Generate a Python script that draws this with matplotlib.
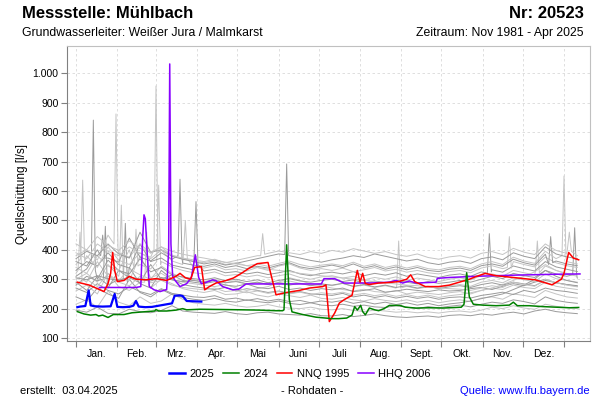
import numpy as np
import matplotlib
matplotlib.use("Agg")
import matplotlib.pyplot as plt
from matplotlib.lines import Line2D
from matplotlib.ticker import FuncFormatter

plt.rcParams['font.family'] = ['Liberation Sans', 'DejaVu Sans']

# Monate (Schaltjahr, Tag 0 = 1. Jan.)
monate = ["Jan.", "Feb.", "Mrz.", "Apr.", "Mai", "Juni", "Juli", "Aug.", "Sept.", "Okt.", "Nov.", "Dez."]
monatsgrenzen = [0, 31, 60, 91, 121, 152, 182, 213, 244, 274, 305, 335, 366]
y_ticks = [100, 200, 300, 400, 500, 600, 700, 800, 900, 1000]

# 2025 (blau)
blau_tage = [1, 3, 7, 9.5, 11, 14, 20, 26, 29, 31, 35, 40, 43, 45, 47, 52, 57, 62, 67, 72, 74, 78, 80, 83, 88, 94]
blau_werte = [205, 207, 209, 262, 211, 208, 207, 208, 250, 206, 205, 206, 210, 226, 207, 205, 206, 210, 214, 218, 244, 245, 243, 226, 225, 224]

# 2024 (gruen)
gruen_tage = [1, 6, 11, 15, 17, 20, 24, 28, 36, 42,
              53, 59, 60, 62, 68, 75, 80, 83, 93, 110,
              125, 137.6, 150, 155, 156, 158, 160, 162, 170, 180,
              192, 197, 203, 207, 209, 211, 213.5, 215, 217, 220,
              224, 227, 231, 235, 243, 247, 255, 265, 275, 285,
              289, 291, 293, 295, 298, 305, 315, 325, 328, 331,
              340, 350, 360, 370, 377]
gruen_werte = [190, 182, 178, 180, 175, 178, 170, 180, 180, 186,
               190, 192, 197, 192, 192, 195, 200, 196, 198, 197,
               196, 195, 193, 193, 196, 417, 230, 189, 180, 171,
               166, 166, 168, 178, 207, 195, 211, 190, 179, 202,
               196, 193, 200, 211, 211, 205, 202, 203, 202, 204,
               205, 215, 322, 240, 215, 212, 210, 212, 222, 210,
               210, 207, 205, 203, 204]

# NNQ 1995 (rot)
rot_tage = [1, 10, 21, 24, 26, 27.5, 29, 31, 36, 40,
            45, 52, 60, 68, 75, 78, 82, 86, 89, 94,
            96.5, 100, 105, 112, 118, 124, 130, 136, 144, 150,
            158, 167.5, 175, 185, 187.5, 190, 194, 197.5, 201, 204,
            207, 211, 213, 215, 217, 220, 227, 235, 242, 248,
            251, 254, 262, 272, 280, 289, 295, 300, 307, 315,
            332, 344.5, 357, 364, 366, 369.5, 373, 377]
rot_werte = [290, 280, 258, 285, 320, 391, 330, 292, 296, 310,
             300, 298, 302, 296, 310, 320, 305, 300, 340, 343,
             264, 275, 287, 295, 304, 320, 338, 353, 357, 247,
             255, 262, 270, 275, 281, 156, 185, 219, 230, 238,
             245, 330, 290, 320, 285, 282, 287, 289, 292, 300,
             315, 292, 275, 275, 280, 292, 300, 309, 320, 312,
             304, 298, 281, 300, 320, 391, 372, 366]

# HHQ 2006 (lila)
lila_tage = [17.5, 25, 35, 45, 48.6, 50, 51, 52, 53.5, 55,
             58.6, 63, 68, 69.5, 70.3, 71.2, 72.5, 74, 78, 83,
             86.5, 89.5, 92, 94, 98, 102.5, 105, 110, 117.6, 122,
             127.6, 140, 160, 184, 186, 194, 201, 220, 235, 240,
             245, 250, 255, 270, 271, 280, 300, 330, 360, 378]
lila_werte = [272, 272, 272, 272, 275, 440, 519, 505, 380, 275,
              264, 258, 265, 400, 1032, 420, 310, 298, 275, 285,
              306, 383, 306, 285, 290, 298, 295, 275, 264, 266,
              284, 284, 284, 284, 302, 302, 287, 287, 290, 296,
              287, 294, 287, 290, 303, 306, 310, 314, 317, 318]

# uebrige Jahre (grau), Werte alle 8 Tage
grau_tage = list(range(0, 377, 8))
g01 = [195, 188, 205, 184, 182, 198, 190, 186, 194, 210, 192, 188,
       186, 184, 190, 183, 180, 186, 188, 182, 180, 178, 183, 176,
       175, 180, 173, 177, 182, 176, 172, 170, 173, 175, 171, 177,
       179, 176, 182, 178, 184, 188, 182, 192, 198, 190, 186, 183]
g02 = [215, 230, 205, 260, 222, 210, 240, 218, 226, 250, 232, 220,
       215, 212, 218, 210, 205, 208, 214, 206, 202, 200, 205, 198,
       196, 200, 194, 190, 195, 192, 188, 190, 186, 189, 185, 190,
       192, 188, 195, 205, 200, 210, 202, 198, 215, 208, 204, 200]
g03 = [240, 225, 270, 250, 235, 300, 255, 240, 265, 248, 238, 232,
       228, 235, 226, 222, 230, 224, 220, 226, 218, 214, 220, 212,
       210, 215, 208, 212, 206, 204, 210, 205, 200, 207, 203, 208,
       212, 206, 215, 222, 218, 230, 224, 216, 240, 228, 222, 218]
g04 = [260, 280, 250, 320, 275, 262, 290, 270, 300, 285, 268, 260,
       255, 262, 248, 250, 258, 246, 240, 250, 244, 238, 246, 235,
       232, 238, 230, 226, 234, 228, 224, 230, 222, 228, 220, 226,
       230, 224, 236, 240, 232, 250, 245, 238, 262, 250, 240, 236]
g05 = [290, 262, 310, 280, 300, 340, 285, 270, 330, 300, 282, 275,
       270, 265, 272, 260, 268, 262, 255, 260, 252, 258, 250, 248,
       245, 252, 240, 246, 238, 244, 236, 242, 235, 240, 232, 238,
       240, 236, 245, 250, 256, 248, 262, 255, 270, 262, 258, 252]
g06 = [300, 320, 290, 350, 310, 295, 380, 305, 320, 298, 290, 285,
       280, 275, 282, 270, 262, 268, 275, 290, 305, 296, 284, 278,
       270, 265, 260, 266, 258, 255, 262, 250, 256, 252, 248, 254,
       258, 250, 262, 270, 265, 280, 272, 268, 290, 276, 270, 265]
g07 = [280, 310, 295, 270, 330, 305, 288, 350, 300, 315, 296, 290,
       285, 292, 280, 276, 284, 272, 268, 276, 265, 270, 262, 268,
       264, 270, 258, 262, 268, 256, 260, 266, 262, 258, 264, 260,
       262, 268, 272, 265, 276, 285, 278, 290, 300, 288, 282, 278]
g08 = [320, 290, 360, 310, 295, 335, 315, 300, 345, 320, 305, 298,
       292, 300, 288, 295, 285, 290, 282, 288, 294, 286, 280, 284,
       278, 286, 275, 280, 272, 278, 270, 276, 268, 274, 270, 278,
       282, 276, 290, 296, 288, 305, 298, 292, 318, 302, 296, 290]
g09 = [310, 335, 300, 365, 330, 318, 370, 325, 340, 315, 308, 302,
       298, 305, 295, 300, 292, 298, 288, 296, 302, 294, 290, 296,
       300, 292, 298, 286, 294, 288, 296, 290, 284, 292, 286, 290,
       296, 290, 300, 310, 302, 320, 312, 306, 330, 318, 310, 304]
g10 = [340, 320, 380, 345, 330, 400, 350, 335, 360, 342, 330, 322,
       318, 325, 312, 316, 308, 314, 305, 312, 318, 306, 300, 308,
       312, 304, 310, 298, 306, 300, 308, 296, 304, 298, 292, 300,
       305, 298, 312, 318, 310, 330, 322, 315, 345, 330, 320, 314]
g11 = [330, 360, 345, 390, 350, 338, 420, 360, 372, 348, 340, 332,
       328, 334, 322, 326, 318, 324, 316, 322, 330, 318, 312, 320,
       324, 318, 326, 312, 320, 314, 322, 310, 318, 312, 306, 314,
       318, 310, 325, 332, 324, 345, 336, 328, 360, 342, 334, 326]
g12 = [350, 380, 340, 410, 365, 350, 390, 370, 400, 362, 350, 342,
       338, 346, 332, 336, 328, 340, 330, 345, 352, 338, 330, 336,
       330, 338, 326, 332, 340, 328, 334, 324, 330, 322, 318, 326,
       330, 322, 338, 346, 336, 360, 350, 342, 375, 356, 346, 340]
g13 = [360, 345, 400, 372, 358, 440, 375, 362, 390, 368, 355, 348,
       344, 352, 340, 346, 336, 344, 338, 348, 356, 342, 336, 342,
       348, 340, 352, 338, 346, 334, 342, 332, 340, 330, 326, 334,
       338, 330, 346, 352, 344, 368, 356, 348, 385, 362, 352, 346]
g14 = [380, 400, 365, 450, 390, 375, 420, 388, 410, 380, 370, 362,
       356, 364, 350, 356, 346, 352, 344, 354, 362, 350, 342, 348,
       352, 346, 358, 344, 352, 340, 348, 338, 346, 336, 332, 340,
       344, 336, 352, 360, 350, 375, 362, 354, 395, 370, 360, 352]
g15 = [370, 395, 380, 420, 386, 372, 460, 392, 400, 378, 368, 360,
       352, 358, 348, 354, 362, 370, 378, 386, 380, 372, 364, 358,
       366, 372, 380, 374, 386, 378, 370, 362, 368, 356, 350, 358,
       362, 354, 370, 376, 366, 390, 378, 370, 410, 386, 376, 370]
g16 = [390, 370, 420, 395, 380, 410, 388, 375, 400, 382, 372, 366,
       360, 368, 356, 364, 372, 380, 388, 396, 390, 384, 394, 388,
       398, 392, 404, 396, 388, 394, 384, 378, 386, 374, 368, 376,
       380, 372, 388, 394, 384, 405, 392, 384, 420, 398, 388, 380]
g17 = [270, 255, 285, 262, 250, 275, 258, 248, 268, 252, 246, 240,
       238, 244, 232, 236, 228, 234, 226, 232, 224, 228, 220, 226,
       222, 228, 218, 224, 216, 222, 214, 220, 212, 218, 210, 216,
       220, 226, 234, 242, 250, 265, 280, 300, 330, 310, 296, 288]
g18 = [285, 300, 275, 320, 290, 278, 310, 288, 296, 280, 272, 268,
       264, 270, 258, 262, 254, 260, 252, 258, 250, 256, 248, 254,
       250, 256, 246, 252, 244, 250, 242, 248, 240, 246, 238, 244,
       248, 254, 262, 270, 282, 296, 310, 325, 350, 330, 318, 310]
g19 = [305, 298, 312, 302, 296, 308, 300, 294, 306, 298, 292, 296,
       290, 296, 288, 292, 284, 290, 282, 288, 280, 286, 278, 284,
       280, 286, 276, 282, 274, 280, 272, 278, 270, 276, 268, 274,
       278, 272, 282, 288, 280, 290, 284, 278, 296, 288, 282, 276]
g20 = [420, 400, 445, 415, 398, 430, 405, 392, 410, 395, 385, 378,
       372, 365, 358, 352, 346, 340, 334, 330, 326, 320, 316, 312,
       308, 304, 300, 296, 292, 288, 284, 280, 278, 274, 270, 268,
       266, 262, 270, 278, 272, 290, 282, 276, 300, 288, 280, 274]
grau = [g01, g02, g03, g04, g05, g06, g07, g08, g09, g10,
        g11, g12, g13, g14, g15, g16, g17, g18, g19, g20]

# Spitzen in den grauen Jahren: (Jahr-Index, Tag, Spitze, Wert davor, Wert danach)
spitzen = [(8, 13, 841, 360, 330), (11, 5, 637, 370, 360), (13, 30, 862, 420, 400),
           (15, 60, 957, 400, 390), (9, 62, 620, 360, 350), (12, 78, 640, 380, 372),
           (10, 90, 564, 372, 350), (14, 158, 692, 384, 380), (13, 366, 651, 380, 372),
           (7, 3, 460, 330, 300), (6, 22, 480, 300, 280), (5, 34, 552, 320, 300),
           (4, 37, 490, 300, 290), (9, 45, 470, 340, 345), (3, 53, 460, 290, 280),
           (11, 82, 500, 380, 370), (12, 20, 450, 380, 372), (15, 140, 455, 380, 385),
           (10, 310, 455, 320, 325), (11, 325, 445, 340, 338), (9, 346, 430, 325, 322),
           (12, 356, 445, 350, 356), (15, 370, 460, 400, 395), (8, 374, 475, 315, 310),
           (7, 242, 430, 276, 270)]
grau_farben = ['#9a9a9a', '#c4c4c4']

fig = plt.figure(figsize=(6, 4), dpi=100)
ax = fig.add_axes([67 / 600, 1 - 341 / 400, 523 / 600, 295 / 400])

for j, werte in enumerate(grau):
    t = list(grau_tage)
    q = list(werte)
    for k, tag, spitze, a, b in spitzen:
        if k == j:
            t += [tag - 1.5, tag, tag + 1.5]
            q += [a, spitze, b]
    reihenfolge = np.argsort(t)
    ax.plot(np.array(t)[reihenfolge], np.array(q)[reihenfolge],
            color=grau_farben[j % 2], lw=0.7, zorder=2)

ax.plot(lila_tage, lila_werte, color='#8800ff', lw=1.1, zorder=3)
ax.plot(rot_tage, rot_werte, color='#ff0000', lw=1.1, zorder=4)
ax.plot(gruen_tage, gruen_werte, color='#008000', lw=1.1, zorder=5)
ax.plot(blau_tage, blau_werte, color='#0000ff', lw=1.6, zorder=6)

ax.set_xlim(-6.75, 385.5)
ax.set_ylim(90, 1093)

ax.set_xticks(monatsgrenzen)
ax.set_xticklabels([])
ax.set_xticks([(monatsgrenzen[i] + monatsgrenzen[i + 1]) / 2 for i in range(12)], minor=True)
ax.set_xticklabels(monate, minor=True, fontsize=7.5)
ax.tick_params(axis='x', which='major', length=4, color='#808080', direction='out')
ax.tick_params(axis='x', which='minor', length=0, pad=6)
ax.set_yticks(y_ticks)
ax.yaxis.set_major_formatter(FuncFormatter(lambda v, p: f"{v:,.0f}".replace(",", ".")))
ax.tick_params(axis='y', length=4, color='#808080', labelsize=7.5, pad=2)

ax.grid(True, which='major', color='#d9d9d9', ls=(0, (3, 3)), lw=0.6)
ax.set_axisbelow(True)
for s in ['left', 'bottom']:
    ax.spines[s].set_color('#808080')
for s in ['top', 'right']:
    ax.spines[s].set_color('#c0c0c0')

ax.set_ylabel("Quellschüttung [l/s]", fontsize=8.5, labelpad=3)

fig.text(22 / 600, 1 - 14 / 400, "Messstelle: Mühlbach", fontsize=12, fontweight='bold', va='center')
fig.text(584 / 600, 1 - 14 / 400, "Nr: 20523", fontsize=12, fontweight='bold', va='center', ha='right')
fig.text(22 / 600, 1 - 33 / 400, "Grundwasserleiter: Weißer Jura / Malmkarst", fontsize=8.8, va='center')
fig.text(584 / 600, 1 - 33 / 400, "Zeitraum: Nov 1981 - Apr 2025", fontsize=8.8, va='center', ha='right')

griffe = [Line2D([], [], color='#0000ff', lw=1.8), Line2D([], [], color='#008000', lw=1.1),
          Line2D([], [], color='#ff0000', lw=1.1), Line2D([], [], color='#8800ff', lw=1.1)]
fig.legend(griffe, ["2025", "2024", "NNQ 1995", "HHQ 2006"], loc='center',
           bbox_to_anchor=(0.5, 1 - 374 / 400), ncol=4, frameon=False, fontsize=8,
           handlelength=1.4, handletextpad=0.4, columnspacing=0.8)

fig.text(20 / 600, 1 - 391 / 400, "erstellt:  03.04.2025", fontsize=8, va='center')
fig.text(312 / 600, 1 - 391 / 400, "- Rohdaten -", fontsize=8, va='center', ha='center')
fig.text(590 / 600, 1 - 391 / 400, "Quelle: www.lfu.bayern.de", fontsize=8, va='center', ha='right', color='#0000ff')

fig.savefig("out.png", dpi=100)
